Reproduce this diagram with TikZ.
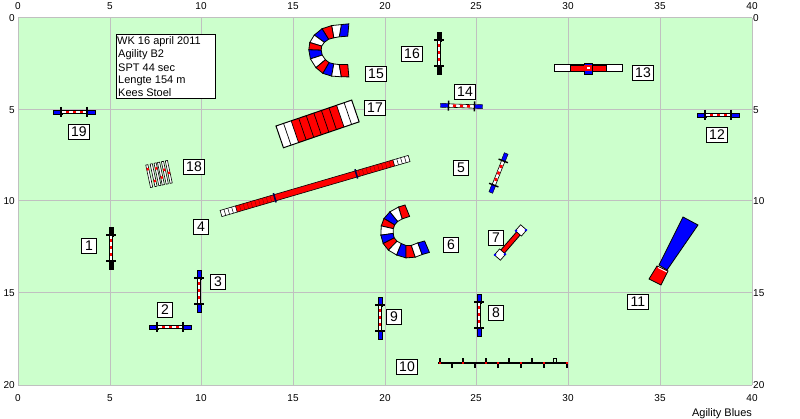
\documentclass[tikz,border=0pt]{standalone}
\usepackage{fontspec}
\setmainfont{Liberation Sans}
\definecolor{field}{HTML}{CCFFCC}
\definecolor{gridgray}{HTML}{C0C0C0}
\definecolor{tblue}{HTML}{0000FF}
\definecolor{tred}{HTML}{FF0000}
\newcommand{\Hurdle}[4]{% cx cy angle endcolour
\begin{scope}[shift={(#1,#2)},rotate=#3]
\fill[#4,draw=black,line width=.4pt] (-21,-2) rectangle (-12,2);
\fill[#4,draw=black,line width=.4pt] (12,-2) rectangle (21,2);
\fill[white,draw=black,line width=.6pt] (-13,-1.7) rectangle (13,1.7);
\foreach \q in {-7,0,7}{\fill[tred] (\q-1.5,-1.3) rectangle (\q+1.5,1.3);}
\draw[black,line width=1.4pt] (-13,-5) -- (-13,5);
\draw[black,line width=1.4pt] (13,-5) -- (13,5);
\end{scope}}
\newcommand{\Tunnel}[4]{% x y n of first edge, list of x/y/n/colour
\foreach \ex/\ey/\en/\ec [remember=\ex as \pex (initially #1),remember=\ey as \pey (initially #2),remember=\en as \pen (initially #3)] in {#4}{
\fill[\ec,draw=black,line width=.8pt]
 ({\pex+6.2*cos(\pen)},{\pey-6.2*sin(\pen)}) -- ({\ex+6.2*cos(\en)},{\ey-6.2*sin(\en)}) --
 ({\ex-6.2*cos(\en)},{\ey+6.2*sin(\en)}) -- ({\pex-6.2*cos(\pen)},{\pey+6.2*sin(\pen)}) -- cycle;}}
\tikzset{
  x=1pt,y=-1pt,
  numbox/.style={draw=black,fill=white,line width=1pt,inner sep=0pt,minimum height=14.5pt,minimum width=15pt,font=\fontsize{14}{14}\selectfont},
  numwide/.style={numbox,minimum width=21pt},
  axislabel/.style={inner sep=0pt,font=\fontsize{10}{11}\selectfont},
  infoline/.style={inner sep=0pt,anchor=west,font=\fontsize{11}{11}\selectfont},
}
\begin{document}
\begin{tikzpicture}[x=1pt,y=-1pt]
\useasboundingbox (0,0) rectangle (800,419);
\fill[white] (0,0) rectangle (800,419);
\fill[field] (18,18) rectangle (752,385);
\foreach \gx in {18,110,201,293,385,476,568,660,752}{\draw[gridgray,line width=1pt] (\gx,18) -- (\gx,385);}
\foreach \gy in {18,110,201,293,385}{\draw[gridgray,line width=1pt] (18,\gy) -- (752,\gy);}
% axis labels
\foreach \lab/\gx in {0/18,5/110,10/201,15/293,20/385,25/476,30/568,35/660,40/752}{
  \node[axislabel] (t\lab) at (\gx,6) {\lab};
  \node[axislabel] (b\lab) at (\gx,398) {\lab};}
\foreach \lab/\gy in {0/18,5/110,10/201,15/293,20/385}{
  \node[axislabel,anchor=east] (l\lab) at (15,\gy) {\lab};
  \node[axislabel,anchor=west] (r\lab) at (753,\gy) {\lab};}
\node[inner sep=0pt,font=\fontsize{11}{11}\selectfont] (brand) at (722,413.5) {Agility Blues};
% info box
\draw[black,fill=white,line width=1pt] (116,35) rectangle (215,99);
\node[infoline] (i1) at (117,42) {WK 16 april 2011};
\node[infoline] (i2) at (118,55) {Agility B2};
\node[infoline] (i3) at (118,68) {SPT 44 sec};
\node[infoline] (i4) at (118,81) {Lengte 154 m};
\node[infoline] (i5) at (118,93) {Kees Stoel};
% hurdles
\Hurdle{74}{112}{0}{tblue}
\Hurdle{170}{327}{0}{tblue}
\Hurdle{199}{291}{90}{tblue}
\Hurdle{111}{248}{90}{black}
\Hurdle{461.5}{106}{-2}{tblue}
\Hurdle{718}{115}{0}{tblue}
\Hurdle{479}{315}{90}{tblue}
\Hurdle{380}{318}{90}{tblue}
\Hurdle{439}{53}{90}{black}
\Hurdle{498.5}{173}{68.5}{tblue}
% tunnels
\Tunnel{348.3}{30}{85}{340.3/30.7/80/tblue,332.7/31.7/100/white,325.3/34/122/tred,319.3/38.7/144/tblue,315.7/44.3/163/white,315/50/178/tred,316.3/57/198/tblue,320.7/63.7/220/white,326/68/240/tred,332.7/70/260/tblue,340.3/70.7/280/white,348.3/70.7/275/tred}
\Tunnel{407.3}{210.7}{112}{400.3/213/107/tred,393.7/216.7/129/white,389.3/221.7/149/tblue,387.3/227.3/167/tred,387/234.3/188/white,388.7/240.7/207/tblue,392.7/245.7/226/tred,399/249.3/248/white,406/251.7/270/tblue,413.3/251.3/288/tred,420/248.7/290/white,427/246.7/293/tblue}
% A-frame 17
\begin{scope}[shift={(276,126)},rotate=18.9]
\fill[white] (0,0) rectangle (80,23);
\fill[tred] (16,0) rectangle (64,23);
\foreach \q in {8,16,24,32,40,48,56,64,72}{\draw[black,line width=.7pt] (\q,0) -- (\q,23);}
\draw[black,line width=1pt] (0,0) rectangle (80,23);
\end{scope}
% dog walk
\begin{scope}[shift={(221,213.5)},rotate=16.3]
\fill[white] (0,-3.2) rectangle (196,3.2);
\fill[tred] (16,-3.2) rectangle (180,3.2);
\foreach \q in {4,8,12,184,188,192}{\draw[black,line width=.5pt] (\q,-3.2) -- (\q,3.2);}
\foreach \q in {20,24,...,52,144,148,...,176}{\draw[black!45!red,line width=.4pt] (\q,-3.2) -- (\q,3.2);}
\draw[black,line width=.6pt] (0,-3.2) rectangle (16,3.2);
\draw[black,line width=.6pt] (180,-3.2) rectangle (196,3.2);
\draw[black,line width=.6pt] (16,-3.2) -- (180,-3.2) (16,3.2) -- (180,3.2);
\draw[black!70!blue,line width=1.6pt] (56,-4.8) -- (56,4.8);
\draw[black!70!blue,line width=1.6pt] (141,-4.8) -- (141,4.8);
\end{scope}
% tyre 7
\begin{scope}[shift={(510.5,242.5)},rotate=49]
\fill[tred,draw=black,line width=.8pt] (-15,-2.4) rectangle (15,2.4);
\foreach \e in {-16,16}{
 \fill[white,draw=black,line width=.7pt] (\e-4,-4) rectangle (\e+4,4);
 \foreach \s/\t in {-1/-1,1/1}{\fill[tblue] (\e+\s*3.5-1,\t*3.5-1) rectangle ++(2,2);}
}
\end{scope}
% weave 11
\fill[tblue,draw=black,line width=.8pt] (683,217) -- (698,225) -- (667,270) -- (659,265) -- cycle;
\fill[tred,draw=black,line width=.8pt] (657,266) -- (668,271) -- (661,285) -- (649,279) -- cycle;
\draw[white,line width=1pt] (658,267.5) -- (667,272);
% table 13
\draw[black,fill=white,line width=1pt] (554,65) rectangle (622,72);
\fill[tred,draw=black,line width=.5pt] (570,65) rectangle (606,71);
\fill[tblue,draw=black,line width=.5pt] (584,63) rectangle (592,74);
\fill[tred] (584,65) rectangle (592,71);
\fill[white] (587,67) rectangle (590,69);
% wall 10
\draw[black,line width=2pt] (438,363) -- (567,363);
\foreach \q in {440,463,486,509,532}{\draw[black,line width=1.8pt] (\q,358) -- (\q,363);}
\draw[black,line width=.8pt] (553.5,358.5) rectangle (556,363);
\foreach \q in {452,475,498,521,544,567}{\draw[black,line width=1.8pt] (\q,363) -- (\q,368);}
\foreach \q in {440,463,486,498,521,544,567}{\fill[tred] (\q-.8,362.2) rectangle (\q+.8,363.8);}
% ladder 18
\begin{scope}[shift={(159,174)},rotate=12]
\foreach \q/\a in {-10/-7,-5.5/6,-1.5/-6,2/4,6/-3,10/1}{
 \fill[white,draw=black,line width=.6pt] (\q-1.1,-11.5) rectangle (\q+1.1,11.5);
 \fill[tred] (\q-1.1,\a-1.2) rectangle (\q+1.1,\a+1.2);
}
\end{scope}
% numbers
\node[numbox] (n1) at (89,246) {1};
\node[numbox] (n2) at (165,310) {2};
\node[numbox] (n3) at (218,282) {3};
\node[numbox] (n4) at (201,227) {4};
\node[numbox] (n5) at (461,168) {5};
\node[numbox] (n6) at (451,245) {6};
\node[numbox] (n7) at (496,238) {7};
\node[numbox] (n8) at (496,313) {8};
\node[numbox] (n9) at (394,317) {9};
\node[numwide] (n10) at (407,367) {10};
\node[numwide] (n11) at (638,302) {11};
\node[numwide] (n12) at (717,135) {12};
\node[numwide] (n13) at (643,73) {13};
\node[numwide] (n14) at (465,92) {14};
\node[numwide] (n15) at (376,74) {15};
\node[numwide] (n16) at (412,54) {16};
\node[numwide] (n17) at (375,108) {17};
\node[numwide] (n18) at (194,167) {18};
\node[numwide] (n19) at (79,132) {19};
\end{tikzpicture}
\end{document}
